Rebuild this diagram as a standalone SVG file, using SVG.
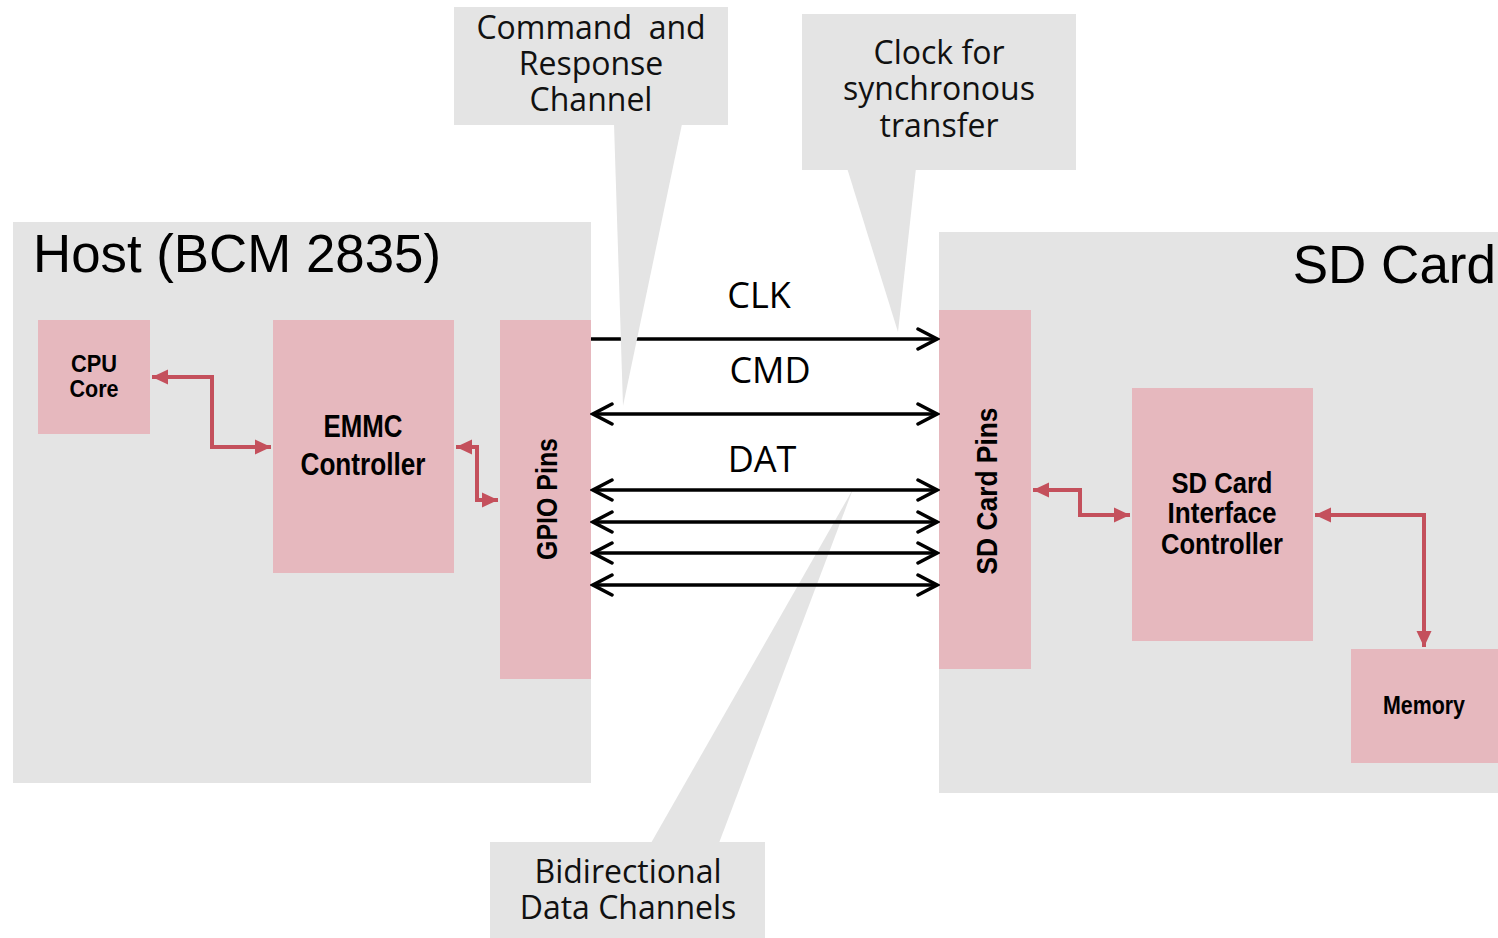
<svg xmlns="http://www.w3.org/2000/svg" width="1498" height="938" viewBox="0 0 1498 938">
  <style>
    .panel { fill: #e4e4e4; }
    .block { fill: #e6b8be; }
    .callout { fill: #e4e4e4; }
    .title { font-family: "Liberation Sans", Arial, sans-serif; font-size: 53px; fill: #000; }
    .lbl { font-family: "Liberation Sans", Arial, sans-serif; font-weight: bold; fill: #000; text-anchor: middle; }
    .note { font-family: "Open Sans", "Noto Sans", sans-serif; font-size: 32px; fill: #111; text-anchor: middle; }
    .sig { font-family: "Open Sans", "Noto Sans", sans-serif; font-size: 36px; fill: #000; text-anchor: middle; }
    .bus { stroke: #000; stroke-width: 3.5; fill: none; }
    .link { stroke: #c4505c; stroke-width: 4; fill: none; }
  </style>
  <defs>
    <marker id="chev" viewBox="0 0 24 24" refX="21" refY="12" markerWidth="24" markerHeight="24" markerUnits="userSpaceOnUse" orient="auto-start-reverse">
      <path d="M2,2 L21,12 L2,22" fill="none" stroke="#000" stroke-width="3.5" stroke-linecap="round" stroke-linejoin="miter"/>
    </marker>
    <marker id="tri" viewBox="0 0 16 16" refX="16" refY="8" markerWidth="16" markerHeight="16" markerUnits="userSpaceOnUse" orient="auto-start-reverse">
      <path d="M0,0.5 L16,8 L0,15.5 Z" fill="#c4505c"/>
    </marker>
  </defs>

  <!-- host and card panels -->
  <g id="host">
    <rect class="panel" x="13" y="222" width="578" height="561"/>
    <text class="title" x="33" y="272" textLength="408" lengthAdjust="spacingAndGlyphs">Host (BCM 2835)</text>
  </g>
  <g id="sdcard">
    <rect class="panel" x="939" y="232" width="559" height="561"/>
    <text class="title" x="1496" y="283" text-anchor="end">SD Card</text>
  </g>

  <!-- functional blocks -->
  <g id="cpu-core">
    <rect class="block" x="38" y="320" width="112" height="114"/>
    <text class="lbl" font-size="24" x="94" y="372" textLength="46" lengthAdjust="spacingAndGlyphs">CPU</text>
    <text class="lbl" font-size="24" x="94" y="397" textLength="49" lengthAdjust="spacingAndGlyphs">Core</text>
  </g>
  <g id="emmc-controller">
    <rect class="block" x="273" y="320" width="181" height="253"/>
    <text class="lbl" font-size="32" x="363" y="437" textLength="79" lengthAdjust="spacingAndGlyphs">EMMC</text>
    <text class="lbl" font-size="32" x="363" y="475" textLength="125" lengthAdjust="spacingAndGlyphs">Controller</text>
  </g>
  <g id="gpio-pins">
    <rect class="block" x="500" y="320" width="91" height="359"/>
    <text class="lbl" font-size="29" transform="translate(557,499) rotate(-90)" x="0" y="0" textLength="122" lengthAdjust="spacingAndGlyphs">GPIO Pins</text>
  </g>
  <g id="sd-card-pins">
    <rect class="block" x="939" y="310" width="92" height="359"/>
    <text class="lbl" font-size="29" transform="translate(997,491) rotate(-90)" x="0" y="0" textLength="167" lengthAdjust="spacingAndGlyphs">SD Card Pins</text>
  </g>
  <g id="sd-interface-controller">
    <rect class="block" x="1132" y="388" width="181" height="253"/>
    <text class="lbl" font-size="29" x="1222" y="493" textLength="101" lengthAdjust="spacingAndGlyphs">SD Card</text>
    <text class="lbl" font-size="29" x="1222" y="523" textLength="109" lengthAdjust="spacingAndGlyphs">Interface</text>
    <text class="lbl" font-size="29" x="1222" y="554" textLength="122" lengthAdjust="spacingAndGlyphs">Controller</text>
  </g>
  <g id="memory">
    <rect class="block" x="1351" y="649" width="147" height="114"/>
    <text class="lbl" font-size="25" x="1424" y="714" textLength="82" lengthAdjust="spacingAndGlyphs">Memory</text>
  </g>

  <!-- DAT callout sits under the bus lines -->
  <g id="note-data">
    <polygon class="callout" points="651,843 719,843 853,489"/>
    <rect class="callout" x="490" y="842" width="275" height="96"/>
    <text class="note" x="628" y="883">Bidirectional</text>
    <text class="note" x="628" y="919">Data Channels</text>
  </g>

  <!-- connectors -->
  <g id="connectors">
    <path class="link" d="M152,377 H212 V447 H271" marker-start="url(#tri)" marker-end="url(#tri)"/>
    <path class="link" d="M456,447 H477 V500 H498" marker-start="url(#tri)" marker-end="url(#tri)"/>
    <path class="link" d="M1033,490 H1080 V515 H1130" marker-start="url(#tri)" marker-end="url(#tri)"/>
    <path class="link" d="M1315,515 H1424 V647" marker-start="url(#tri)" marker-end="url(#tri)"/>

    <line class="bus" x1="591" y1="339" x2="937" y2="339" marker-end="url(#chev)"/>
    <line class="bus" x1="593" y1="414" x2="937" y2="414" marker-start="url(#chev)" marker-end="url(#chev)"/>
    <line class="bus" x1="593" y1="490" x2="937" y2="490" marker-start="url(#chev)" marker-end="url(#chev)"/>
    <line class="bus" x1="593" y1="522" x2="937" y2="522" marker-start="url(#chev)" marker-end="url(#chev)"/>
    <line class="bus" x1="593" y1="553" x2="937" y2="553" marker-start="url(#chev)" marker-end="url(#chev)"/>
    <line class="bus" x1="593" y1="585" x2="937" y2="585" marker-start="url(#chev)" marker-end="url(#chev)"/>
  </g>

  <!-- signal names -->
  <g id="signal-labels">
    <text class="sig" x="759" y="308">CLK</text>
    <text class="sig" x="770" y="383">CMD</text>
    <text class="sig" x="762" y="472">DAT</text>
  </g>

  <!-- callouts drawn over the clock line -->
  <g id="note-command">
    <polygon class="callout" points="614,124 682,124 623,406"/>
    <rect class="callout" x="454" y="7" width="274" height="118"/>
    <text class="note" x="591" y="39" xml:space="preserve">Command  and</text>
    <text class="note" x="591" y="75">Response</text>
    <text class="note" x="591" y="111">Channel</text>
  </g>
  <g id="note-clock">
    <polygon class="callout" points="847,168 916,168 898,332"/>
    <rect class="callout" x="802" y="14" width="274" height="156"/>
    <text class="note" x="939" y="64">Clock for</text>
    <text class="note" x="939" y="100">synchronous</text>
    <text class="note" x="939" y="137">transfer</text>
  </g>
</svg>
